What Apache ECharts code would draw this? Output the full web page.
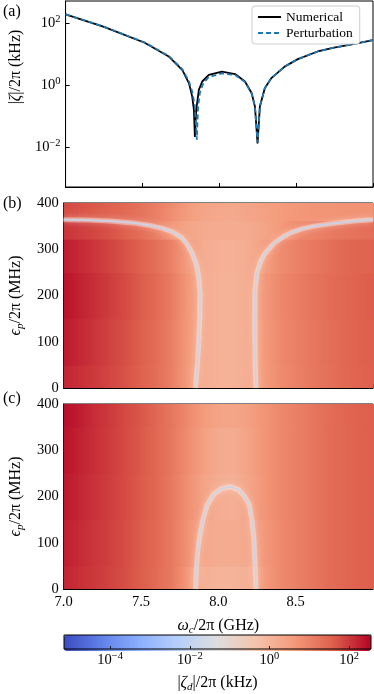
<!DOCTYPE html>
<html><head><meta charset="utf-8">
<script src="https://cdn.jsdelivr.net/npm/echarts@6/dist/echarts.min.js"></script>
<style>html,body{margin:0;padding:0;background:#fff}#c{width:374px;height:694px}</style>
</head><body><div id="c"></div><script>
// ---------- data ----------
// panel (a): |zeta|/2pi in kHz vs omega_c/2pi in GHz (epsilon_p = 0)
const omegaNum = [7.0,7.245,7.515,7.674,7.76,7.803,7.824,7.835,7.841,7.85,7.867,7.889,7.932,8.017,8.103,8.167,8.211,8.232,8.249,8.264,8.296,8.339,8.425,8.511,8.64,8.747,8.854,9.0];
const zetaNum  = [190,76,23,8.1,3.0,1.12,0.42,0.155,0.021,0.155,0.69,1.29,2.1,2.7,2.24,1.29,0.54,0.2,0.013,0.2,0.78,1.66,3.9,6.8,12,16,20,28];
const omegaPert = [7.0,7.245,7.515,7.674,7.76,7.803,7.824,7.84,7.854,7.862,7.875,7.895,7.932,8.017,8.103,8.167,8.211,8.232,8.249,8.264,8.296,8.339,8.425,8.511,8.64,8.747,8.854,9.0];
const zetaPert  = [190,77,23.5,8.4,3.2,1.3,0.6,0.22,0.017,0.2,0.6,1.1,1.8,2.35,2.1,1.25,0.52,0.2,0.014,0.2,0.78,1.66,3.9,6.8,12,16,20,28];

// panels (b),(c): log10(|zeta_d|/2pi / kHz) at omega nodes (columns) and epsilon rows
const omegaNodes = [7.0,7.1,7.2,7.3,7.4,7.5,7.6,7.7,7.8,7.9,8.0,8.1,8.2,8.3,8.4,8.5,8.6,8.7,8.8,8.9,9.0];
const epsRowsB = [0,100,200,300,345,380,400];
const logZetaB = [
  [2.22,2.1,1.98,1.86,1.72,1.55,1.35,1.05,0.6,0.18,0.08,0.08,0.18,0.6,0.88,1.03,1.18,1.3,1.42,1.52,1.58],
  [2.32,2.18,2.04,1.9,1.75,1.58,1.37,1.07,0.62,0.2,0.08,0.08,0.2,0.62,0.9,1.05,1.2,1.32,1.44,1.53,1.6],
  [2.4,2.25,2.1,1.95,1.8,1.62,1.4,1.1,0.65,0.22,0.08,0.08,0.22,0.65,0.92,1.08,1.22,1.35,1.46,1.55,1.62],
  [2.3,2.17,2.03,1.88,1.72,1.55,1.32,1.02,0.55,0.22,0.12,0.12,0.22,0.5,0.85,1.02,1.17,1.3,1.42,1.5,1.56],
  [2.05,1.95,1.85,1.72,1.55,1.35,1.05,0.65,0.38,0.25,0.2,0.2,0.25,0.4,0.62,0.85,1.0,1.12,1.22,1.3,1.35],
  [1.78,1.7,1.62,1.52,1.4,1.25,1.05,0.8,0.55,0.38,0.3,0.3,0.36,0.47,0.58,0.65,0.7,0.72,0.74,0.75,0.75],
  [1.82,1.74,1.65,1.55,1.43,1.28,1.08,0.85,0.6,0.42,0.35,0.35,0.4,0.5,0.58,0.65,0.7,0.72,0.74,0.75,0.76]
];
const epsRowsC = [0,100,200,300,400];
const logZetaC = [
  [2.22,2.1,2.0,1.9,1.76,1.6,1.4,1.15,0.62,0.12,0.05,0.05,0.12,0.6,0.9,1.05,1.2,1.35,1.45,1.55,1.6],
  [2.28,2.15,2.03,1.92,1.78,1.62,1.42,1.15,0.75,0.3,0.22,0.22,0.3,0.65,0.9,1.05,1.2,1.35,1.45,1.55,1.6],
  [2.34,2.2,2.06,1.94,1.8,1.64,1.43,1.15,0.8,0.42,0.18,0.15,0.4,0.7,0.92,1.06,1.2,1.35,1.46,1.55,1.6],
  [2.4,2.25,2.1,1.96,1.81,1.66,1.44,1.18,0.86,0.5,0.25,0.22,0.45,0.72,0.92,1.06,1.2,1.35,1.46,1.55,1.6],
  [2.45,2.3,2.12,1.98,1.82,1.68,1.45,1.2,0.9,0.6,0.42,0.37,0.5,0.72,0.92,1.06,1.2,1.35,1.47,1.55,1.6]
];
// zero contours [omega, epsilon]
const contourBLeft = [[7.0,364],[7.15,363],[7.3,361],[7.45,357],[7.55,352],[7.63,346],[7.7,338],[7.76,326],[7.8,310],[7.83,292],[7.86,265],[7.875,235],[7.882,200],[7.88,150],[7.872,90],[7.862,40],[7.852,0]];
const contourBRight = [[8.243,0],[8.238,60],[8.236,140],[8.237,210],[8.25,250],[8.275,275],[8.3,290],[8.36,313],[8.425,328],[8.47,336],[8.54,344],[8.62,350],[8.75,356],[8.88,361],[9.0,364]];
const contourC = [[7.852,0],[7.858,40],[7.866,80],[7.88,115],[7.9,150],[7.93,183],[7.97,205],[8.02,217],[8.075,221],[8.13,215],[8.17,200],[8.2,183],[8.217,150],[8.23,110],[8.237,60],[8.243,0]];

const xTicks = [7.0,7.5,8.0,8.5];
const zetaTicks = [0.01,1,100];
const cbTicks = [-4,-2,0,2];
const cbMin = -5.16, cbMax = 2.55;

// ---------- styling ----------
const FONT = 'Liberation Serif';
const coolwarm = ['#3b4cc0','#6282ea','#8db0fe','#b8d0f9','#dddddd','#f5c4ad','#f49a7b','#de604d','#b40426'];
const cwRGB = coolwarm.map(h => [parseInt(h.slice(1,3),16),parseInt(h.slice(3,5),16),parseInt(h.slice(5,7),16)]);
function cmap(v){
  let t = (v - cbMin)/(cbMax - cbMin); t = Math.max(0, Math.min(1, t));
  const s = t*(cwRGB.length-1); const i = Math.min(Math.floor(s), cwRGB.length-2); const f = s - i;
  const a = cwRGB[i], b = cwRGB[i+1];
  return 'rgb(' + a.map((c,k)=>Math.round(c + (b[k]-c)*f)).join(',') + ')';
}
function buildCells(rows, eps){
  const out = [];
  for (let j=0;j<eps.length;j++){
    const lo = j===0 ? eps[0] : (eps[j-1]+eps[j])/2;
    const hi = j===eps.length-1 ? eps[j] : (eps[j]+eps[j+1])/2;
    for (let i=0;i<omegaNodes.length-1;i++){
      out.push([omegaNodes[i], omegaNodes[i+1], lo, hi, rows[j][i], rows[j][i+1]]);
    }
  }
  return out;
}
function renderCell(params, api){
  const a = api.coord([api.value(0), api.value(3)]);
  const b = api.coord([api.value(1), api.value(2)]);
  return {type:'rect', shape:{x:a[0], y:a[1], width:b[0]-a[0]+0.8, height:b[1]-a[1]+0.8},
    style:{fill:new echarts.graphic.LinearGradient(0,0,1,0,[{offset:0,color:cmap(api.value(4))},{offset:1,color:cmap(api.value(5))}]), stroke:null}};
}
const NS = 16; // axis-name size
const rich = {
  b:{fontFamily:FONT,fontSize:14.5,color:'#000',lineHeight:18},
  s:{fontFamily:FONT,fontSize:10.5,color:'#000',lineHeight:10,verticalAlign:'top'},
  i:{fontFamily:FONT,fontSize:NS,color:'#000',fontStyle:'italic',lineHeight:20},
  t:{fontFamily:FONT,fontSize:NS,color:'#000',lineHeight:20},
  sub:{fontFamily:FONT,fontSize:11,color:'#000',fontStyle:'italic',lineHeight:11,verticalAlign:'bottom'}
};
function powLabel(exp){ return '{b|10}{s|' + (exp<0 ? '\u2212'+(-exp) : exp) + '}'; }
const tick = {inside:true,length:4,lineStyle:{color:'#000',width:1}};
const line = {show:true,lineStyle:{color:'#000',width:1}};
function xAx(g, labels){
  return {type:'value',gridIndex:g,min:7,max:9,interval:0.5,axisLine:line,axisTick:tick,splitLine:{show:false},
    axisLabel:{show:labels,showMaxLabel:false,formatter:v=>v.toFixed(1),fontFamily:FONT,fontSize:14.5,color:'#000',margin:6}};
}
function epsAx(g){
  return {type:'value',gridIndex:g,min:0,max:400,interval:100,axisLine:line,axisTick:tick,splitLine:{show:false},
    axisLabel:{fontFamily:FONT,fontSize:14.5,color:'#000',margin:5},
    name:'{i|\u03f5}{sub|p}{t|/2\u03c0 (MHz)}',nameLocation:'middle',nameRotate:90,nameGap:36,nameTextStyle:{rich}};
}
function contour(data, xi){
  return [
    {type:'line',xAxisIndex:xi,yAxisIndex:xi,data,symbol:'none',silent:true,clip:true,z:3,
      lineStyle:{color:'rgba(250,236,228,0.45)',width:5,shadowColor:'rgba(255,244,238,0.8)',shadowBlur:6}},
    {type:'line',xAxisIndex:xi,yAxisIndex:xi,data,symbol:'none',silent:true,clip:true,z:4,
      lineStyle:{color:'#c9d4e8',width:1.7}}
  ];
}

const option = {
  animation:false,
  grid:[
    {left:62,top:1,width:311,height:186,show:true,borderColor:'#000',borderWidth:1},
    {left:62,top:203,width:311,height:185,show:true,borderColor:'#000',borderWidth:1},
    {left:62,top:404,width:311,height:185,show:true,borderColor:'#000',borderWidth:1},
    {left:64,top:635,width:307,height:16,show:true,borderColor:'#000',borderWidth:1,z:6}
  ],
  xAxis:[
    xAx(0,false), xAx(1,false),
    Object.assign(xAx(2,true),{name:'{i|\u03c9}{sub|c}{t|/2\u03c0 (GHz)}',nameLocation:'middle',nameGap:27,nameTextStyle:{rich}}),
    {type:'value',gridIndex:3,min:cbMin,max:cbMax,z:7,axisLine:{show:false},splitLine:{show:false},
      axisTick:{inside:true,length:3,customValues:cbTicks,lineStyle:{color:'#222'}},
      axisLabel:{customValues:cbTicks,formatter:v=>powLabel(Math.round(v)),rich,margin:2},
      name:'{t||}{i|\u03b6}{sub|d}{t||/2\u03c0 (kHz)}',nameLocation:'middle',nameGap:24,nameTextStyle:{rich}}
  ],
  yAxis:[
    {type:'log',gridIndex:0,min:0.00051,max:510,axisLine:line,splitLine:{show:false},minorTick:{show:false},
      axisTick:Object.assign({customValues:zetaTicks},tick),
      axisLabel:{customValues:zetaTicks,formatter:v=>powLabel(Math.round(Math.log10(v))),rich,margin:5},
      name:'{t||}{i|\u03b6}{t||/2\u03c0 (kHz)}',nameLocation:'middle',nameRotate:90,nameGap:38,
      nameTextStyle:{rich,padding:[0,0,0,54]}},
    epsAx(1), epsAx(2),
    {type:'value',gridIndex:3,show:false,min:0,max:1}
  ],
  visualMap:{type:'continuous',min:cbMin,max:cbMax,orient:'horizontal',left:64,top:635,itemWidth:16,itemHeight:307,
    padding:0,calculable:false,text:null,showLabel:false,seriesIndex:[2,7],dimension:4,inRange:{color:coolwarm},z:4},
  legend:{orient:'vertical',left:252,top:6,itemWidth:23,itemHeight:10,itemGap:2,padding:[4,7,4,5],
    borderColor:'#ccc',borderWidth:1,borderRadius:3,backgroundColor:'#fff',itemStyle:{opacity:0},
    textStyle:{fontFamily:FONT,fontSize:13.5,color:'#000'},data:['Numerical','Perturbation']},
  graphic:[
    {type:'text',left:3,top:4,style:{text:'(a)',font:'16px "Liberation Serif"',fill:'#000'}},
    {type:'text',left:3,top:196,style:{text:'(b)',font:'16px "Liberation Serif"',fill:'#000'}},
    {type:'text',left:3,top:391,style:{text:'(c)',font:'16px "Liberation Serif"',fill:'#000'}}
  ],
  series:[
    {name:'Numerical',type:'line',xAxisIndex:0,yAxisIndex:0,symbol:'none',clip:true,
      data:omegaNum.map((w,i)=>[w,zetaNum[i]]),lineStyle:{color:'#000',width:1.8},itemStyle:{color:'#000'}},
    {name:'Perturbation',type:'line',xAxisIndex:0,yAxisIndex:0,symbol:'none',clip:true,
      data:omegaPert.map((w,i)=>[w,zetaPert[i]]),lineStyle:{color:'#1f77b4',width:1.8,type:[5,3]},itemStyle:{color:'#1f77b4'}},
    {type:'custom',xAxisIndex:1,yAxisIndex:1,renderItem:renderCell,clip:true,silent:true,data:buildCells(logZetaB,epsRowsB),z:1},
    ...contour(contourBLeft,1), ...contour(contourBRight,1),
    {type:'custom',xAxisIndex:2,yAxisIndex:2,renderItem:renderCell,clip:true,silent:true,data:buildCells(logZetaC,epsRowsC),z:1},
    ...contour(contourC,2)
  ]
};
const chart = echarts.init(document.getElementById('c'));
chart.setOption(option);
</script></body></html>
